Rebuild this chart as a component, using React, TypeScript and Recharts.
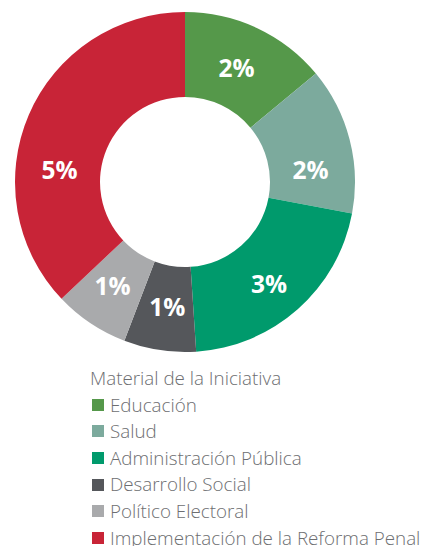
import { PieChart, Pie, Cell } from "recharts";

const categories = [
  "Educación",
  "Salud",
  "Administración Pública",
  "Desarrollo Social",
  "Político Electoral",
  "Implementación de la Reforma Penal",
];
const values = [2.0, 2.0, 3.0, 0.98, 1.02, 5.3];
const labels = ["2%", "2%", "3%", "1%", "1%", "5%"];
const colors = ["#55984a", "#7caa9d", "#009a6c", "#55575b", "#a9aaac", "#c82437"];
// label nudge along the ring, degrees clockwise
const labelShift = [-1, 9, 2, -0.5, 1.4, -17.5];

const data = categories.map((name, i) => ({ name, value: values[i], label: labels[i] }));

const RAD = Math.PI / 180;

const renderLabel = (props: any) => {
  const { cx, cy, midAngle, index } = props;
  const r = index === 2 ? 132 : 126;
  const a = (midAngle - labelShift[index]) * RAD;
  const x = cx + r * Math.cos(-a);
  const y = cy + r * Math.sin(-a);
  return (
    <text
      x={x}
      y={y}
      fill="#ffffff"
      textAnchor="middle"
      dominantBaseline="central"
      fontFamily="'Open Sans', sans-serif"
      fontWeight={700}
      fontSize={24.5}
    >
      {labels[index]}
    </text>
  );
};

export default function App() {
  return (
    <div style={{ position: "absolute", left: 0, top: 0, width: 429, height: 546, background: "#fff" }}>
      <PieChart width={429} height={365} margin={{ top: 0, right: 0, bottom: 0, left: 0 }}>
        <Pie
          data={data}
          dataKey="value"
          cx={185}
          cy={182}
          innerRadius={85}
          outerRadius={170}
          startAngle={90}
          endAngle={-270}
          stroke="none"
          label={renderLabel}
          labelLine={false}
          isAnimationActive={false}
        >
          {data.map((d, i) => (
            <Cell key={d.name} fill={colors[i]} />
          ))}
        </Pie>
      </PieChart>

      {/* legend */}
      <div
        style={{
          position: "absolute",
          left: 90,
          top: 365,
          fontFamily: "'Open Sans', sans-serif",
          fontWeight: 300,
          fontSize: 18.8,
          color: "#6d6e71",
          lineHeight: "26.6px",
          whiteSpace: "nowrap",
        }}
      >
        <div>Material de la Iniciativa</div>
        {categories.map((name, i) => (
          <div key={name} style={{ display: "flex", alignItems: "center" }}>
            <span
              style={{
                display: "inline-block",
                width: 12,
                height: 12,
                background: colors[i],
                marginLeft: 2,
                marginRight: 6,
              }}
            />
            {name}
          </div>
        ))}
      </div>
    </div>
  );
}
